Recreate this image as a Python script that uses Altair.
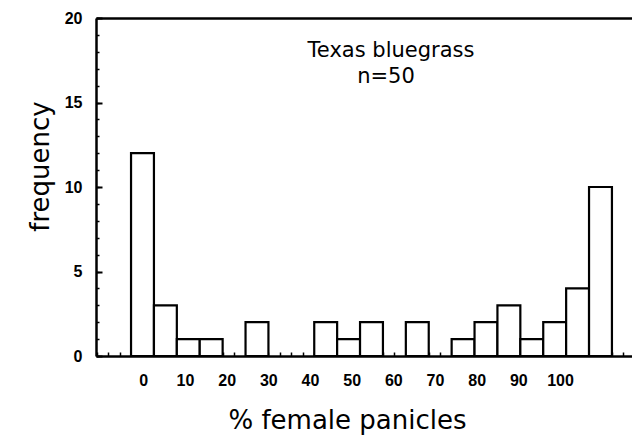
import altair as alt
import pandas as pd

# ---- data ----
bin_centers = [0, 5, 10, 15, 20, 25, 30, 35, 40, 45, 50, 55, 60, 65, 70, 75, 80, 85, 90, 95, 100]
counts = [12, 3, 1, 1, 0, 2, 0, 0, 2, 1, 2, 0, 2, 0, 1, 2, 3, 1, 2, 4, 10]
x_tick_labels = [0, 10, 20, 30, 40, 50, 60, 70, 80, 90, 100]
y_major = [0, 5, 10, 15, 20]
y_minor = list(range(0, 21))
annotation = ["Texas bluegrass", "n=50"]

W, H = 536, 338

bars_df = pd.DataFrame({"center": bin_centers, "count": counts})
bars_df = bars_df[bars_df["count"] > 0].copy()
bars_df["start"] = bars_df["center"] - 2.5
bars_df["end"] = bars_df["center"] + 2.5
bars_df["zero"] = 0

yscale = alt.Scale(domain=[0, 20], nice=False, zero=True)
xbars = alt.Scale(domain=[-10.15, 106.88], nice=False, zero=False)
xlabels = alt.Scale(domain=[-11.35, 117.28], nice=False, zero=False)

x_minor_ticks = [-10 + 2.5 * i for i in range(47)]

TICK_FONT = "Liberation Sans"
TITLE_FONT = "DejaVu Sans"

bars = alt.Chart(bars_df).mark_rect(
    fill="white", stroke="black", strokeWidth=2.2
).encode(
    x=alt.X("start:Q", scale=xbars, axis=alt.Axis(
        orient="top", offset=-H, values=x_minor_ticks, labels=False,
        tickSize=4, tickColor="black", tickWidth=1.5,
        domain=True, domainColor="black", domainWidth=2.5,
        grid=False, title=None)),
    x2="end:Q",
    y=alt.Y("count:Q", scale=yscale, axis=alt.Axis(
        orient="left", values=y_major, ticks=False, labelPadding=14,
        labelFont=TICK_FONT, labelFontSize=16, labelFontWeight="bold",
        labelColor="black", domain=True, domainColor="black", domainWidth=2.5,
        grid=False, title="frequency", titleFont=TITLE_FONT, titleFontSize=26,
        titleFontWeight="normal", titleColor="black",
        titleAngle=270, titleAlign="center", titleBaseline="middle",
        titleX=-56, titleY=148)),
    y2="zero:Q",
)

labels_df = pd.DataFrame({"v": x_tick_labels})
xlab_layer = alt.Chart(labels_df).mark_point(opacity=0).encode(
    x=alt.X("v:Q", scale=xlabels, axis=alt.Axis(
        orient="bottom", values=x_tick_labels, ticks=False, domain=False,
        labelPadding=16, labelFont=TICK_FONT, labelFontSize=16,
        labelFontWeight="bold", labelColor="black", grid=False,
        title="% female panicles", titleFont=TITLE_FONT, titleFontSize=26,
        titleFontWeight="normal", titleColor="black",
        titleAlign="center", titleBaseline="alphabetic",
        titleX=251, titleY=72)),
)

top_layer = alt.Chart(labels_df).mark_point(opacity=0).encode(
    x=alt.X("v:Q", scale=xlabels, axis=alt.Axis(
        orient="top", labels=False, ticks=False, domain=True,
        domainColor="black", domainWidth=2.5, grid=False, title=None)),
)

minor_df = pd.DataFrame({"v": y_minor})
ytick_minor = alt.Chart(minor_df).mark_point(opacity=0).encode(
    y=alt.Y("v:Q", scale=yscale, axis=alt.Axis(
        orient="right", offset=-W, values=y_minor, labels=False,
        tickSize=3, tickColor="black", tickWidth=1.5, domain=False,
        grid=False, title=None)),
)

major_df = pd.DataFrame({"v": y_major})
ytick_major = alt.Chart(major_df).mark_point(opacity=0).encode(
    y=alt.Y("v:Q", scale=yscale, axis=alt.Axis(
        orient="right", offset=-W, values=y_major, labels=False,
        tickSize=6, tickColor="black", tickWidth=2, domain=False,
        grid=False, title=None)),
)

ann1 = alt.Chart(pd.DataFrame({"text": [annotation[0]]})).mark_text(
    font=TITLE_FONT, fontSize=21, fontWeight="normal", color="black",
    align="center", baseline="middle"
).encode(x=alt.value(295), y=alt.value(33), text="text:N")

ann2 = alt.Chart(pd.DataFrame({"text": [annotation[1]]})).mark_text(
    font=TITLE_FONT, fontSize=21, fontWeight="normal", color="black",
    align="center", baseline="middle"
).encode(x=alt.value(290), y=alt.value(59), text="text:N")

chart = alt.layer(
    bars, xlab_layer, top_layer, ytick_minor, ytick_major, ann1, ann2
).resolve_scale(
    x="independent"
).resolve_axis(
    x="independent", y="independent"
).properties(
    width=W, height=H,
    padding={"left": 88, "top": 10, "right": 0, "bottom": 80},
    autosize="none",
).configure_view(stroke=None)

chart.save("out.html", embed_options={"renderer": "svg", "actions": False})
